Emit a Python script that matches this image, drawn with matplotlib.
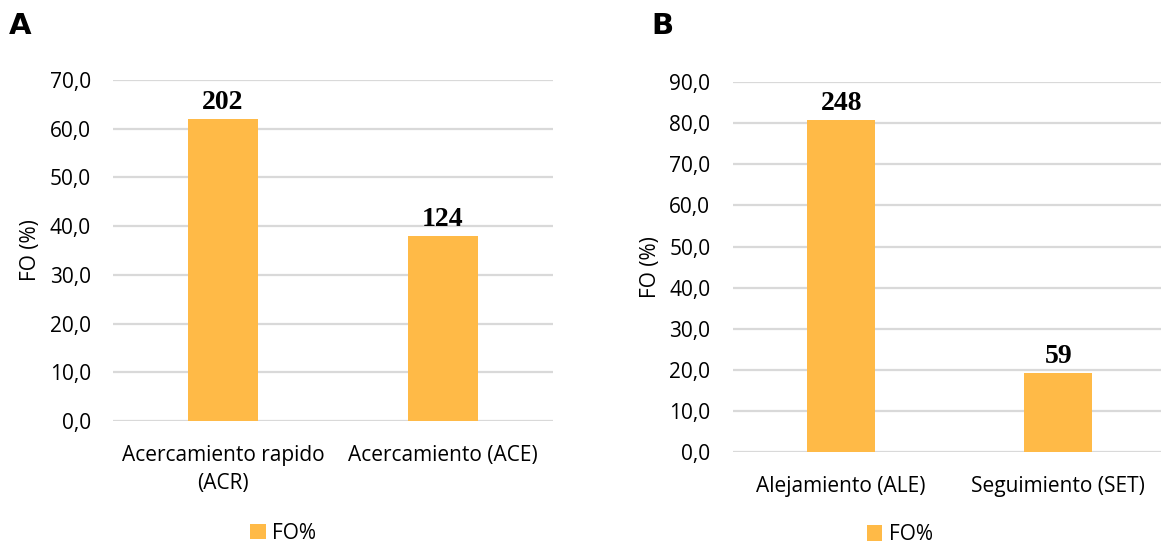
import numpy as np
import matplotlib.pyplot as plt

# counts of each behaviour, panel A and panel B
cats_a = ['Acercamiento rapido\n(ACR)', 'Acercamiento (ACE)']
counts_a = [202, 124]
cats_b = ['Alejamiento (ALE)', 'Seguimiento (SET)']
counts_b = [248, 59]

bar_color = '#FFBA47'
grid_color = '#D9D9D9'
tick_font = 'Open Sans'
fs = 15

fig = plt.figure(figsize=(11.61, 5.44), dpi=100)


def panel(rect, cats, counts, ymax, letter, letter_xy, legend_xy):
    ax = fig.add_axes(rect)
    pct = 100 * np.array(counts) / sum(counts)
    x = np.arange(len(cats))
    bars = ax.bar(x, pct, width=0.315, color=bar_color, label='FO%', zorder=2)
    for xi, p, c in zip(x, pct, counts):
        ax.annotate(str(c), (xi, p), xytext=(0, 3), textcoords='offset points',
                    ha='center', va='bottom', fontsize=20, fontweight='bold',
                    family='Liberation Serif')
    ax.set_xlim(-0.5, len(cats) - 0.5)
    ax.set_ylim(0, ymax)
    ticks = np.arange(0, ymax + 1, 10)
    ax.set_yticks(ticks)
    ax.set_yticklabels([f'{v:.1f}'.replace('.', ',') for v in ticks],
                       family=tick_font, fontsize=fs)
    ax.set_xticks(x)
    ax.set_xticklabels(cats, family=tick_font, fontsize=fs, linespacing=1.45)
    ax.tick_params(axis='y', length=0, pad=16)
    ax.tick_params(axis='x', length=0, pad=17)
    ax.grid(axis='y', color=grid_color, lw=1.6, zorder=0)
    ax.set_axisbelow(True)
    for s in ax.spines.values():
        s.set_visible(False)
    ax.set_ylabel('FO (%)', family=tick_font, fontsize=fs, labelpad=6)
    fig.text(letter_xy[0], letter_xy[1], letter, fontsize=21, fontweight='bold',
             family='DejaVu Sans', ha='left', va='center')
    fig.legend(handles=[bars], labels=['FO%'], loc='center', bbox_to_anchor=legend_xy,
               frameon=False, prop={'family': tick_font, 'size': fs},
               handlelength=0.75, handleheight=0.75, handletextpad=0.3)
    return ax


panel([0.0973, 0.226, 0.379, 0.627], cats_a, counts_a, 70, 'A', (0.008, 0.953), (0.244, 0.02))
panel([0.631, 0.169, 0.374, 0.680], cats_b, counts_b, 90, 'B', (0.561, 0.953), (0.775, 0.017))

fig.savefig('out.png', dpi=100)
